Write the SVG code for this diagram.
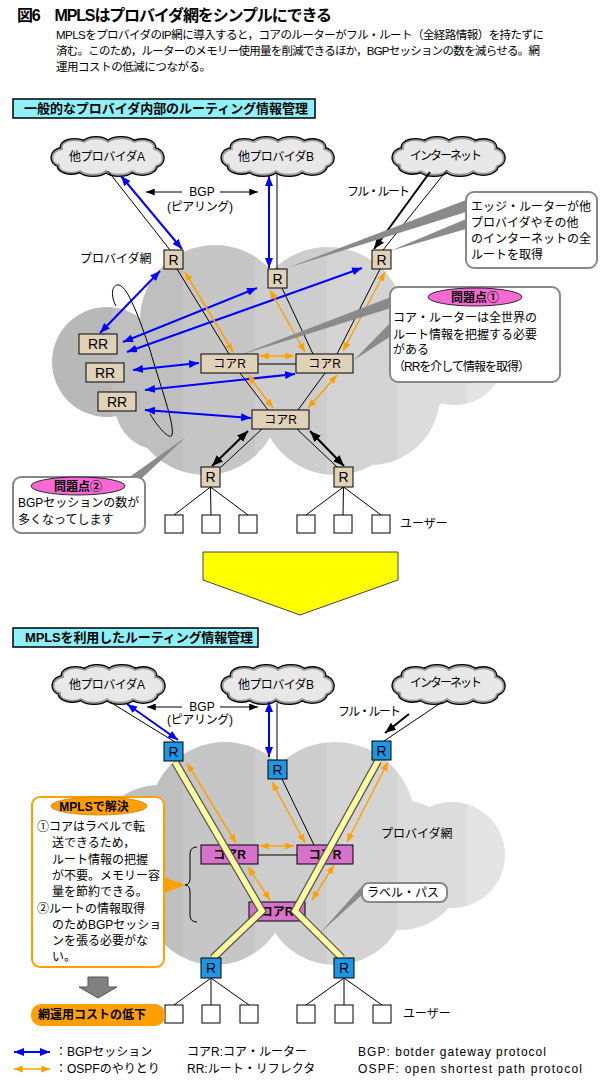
<svg xmlns="http://www.w3.org/2000/svg" width="601" height="1085" viewBox="0 0 601 1085">
<style>
.t{font-family:"Liberation Sans","Noto Sans CJK JP",sans-serif;font-size:12px;fill:#000}
.b{font-weight:bold}
.m{text-anchor:middle}
.thin{stroke:#000;stroke-width:1;fill:none}
.blue{stroke:#0000ff;stroke-width:2;fill:none}
.org{stroke:#ffa000;stroke-width:1.5;fill:none}
.blk{stroke:#000;stroke-width:2;fill:none}
.tan{fill:#e0d2b8;stroke:#000;stroke-width:1}
.blu{fill:#1e96e6;stroke:#000;stroke-width:1}
.mag{fill:#d672cc;stroke:#000;stroke-width:1}
.usr{fill:#fff;stroke:#000;stroke-width:1}
.wedge{fill:#8a8a8a}
.callout{fill:#fff;stroke:#888;stroke-width:2}
.head{fill:#8ef0f8;stroke:#000;stroke-width:1.5}
.ypath{fill:none;stroke-linejoin:miter}
</style>
<defs>
<linearGradient id="stripe" gradientUnits="userSpaceOnUse" x1="0" y1="0" x2="601" y2="0">
<stop offset="0" stop-color="#b8b8b8"/><stop offset="0.1864" stop-color="#b8b8b8"/>
<stop offset="0.1864" stop-color="#bfbfbf"/><stop offset="0.3045" stop-color="#bfbfbf"/>
<stop offset="0.3045" stop-color="#c6c6c6"/><stop offset="0.4243" stop-color="#c6c6c6"/>
<stop offset="0.4243" stop-color="#cdcdcd"/><stop offset="0.5441" stop-color="#cdcdcd"/>
<stop offset="0.5441" stop-color="#d4d4d4"/><stop offset="0.6606" stop-color="#d4d4d4"/>
<stop offset="0.6606" stop-color="#dcdcdc"/><stop offset="0.777" stop-color="#dcdcdc"/>
<stop offset="0.777" stop-color="#e4e4e4"/><stop offset="1" stop-color="#e4e4e4"/>
</linearGradient>
<marker id="ab" viewBox="0 0 10 8" refX="10" refY="4" markerWidth="10" markerHeight="8" markerUnits="userSpaceOnUse" orient="auto-start-reverse"><path d="M0,0L10,4L0,8z" fill="#0000ff"/></marker>
<marker id="ao" viewBox="0 0 10 8" refX="10" refY="4" markerWidth="9" markerHeight="7" markerUnits="userSpaceOnUse" orient="auto-start-reverse"><path d="M0,0L10,4L0,8z" fill="#ffa000"/></marker>
<marker id="ak" viewBox="0 0 10 8" refX="10" refY="4" markerWidth="11" markerHeight="9" markerUnits="userSpaceOnUse" orient="auto-start-reverse"><path d="M0,0L10,4L0,8z" fill="#000"/></marker>
<marker id="aks" viewBox="0 0 10 8" refX="10" refY="4" markerWidth="9" markerHeight="7" markerUnits="userSpaceOnUse" orient="auto-start-reverse"><path d="M0,0L10,4L0,8z" fill="#000"/></marker>
<path id="cloud" d="M12,12 C10,4 24,1 34,5 C40,0 52,0 58,5 C64,0 78,0 84,5 C94,1 106,5 104,12 C114,14 116,26 106,29 C104,37 90,39 82,34 C76,39 62,39 56,34 C50,39 36,39 30,34 C20,38 8,34 9,28 C0,26 0,14 12,12 Z"/>
</defs>

<rect width="601" height="1085" fill="#fff"/>

<g id="title">
<text class="t b" x="17" y="21" style="font-size:16px" textLength="315">図6　MPLSはプロバイダ網をシンプルにできる</text>
<text class="t" x="56" y="39" style="font-size:11.5px" textLength="488">MPLSをプロバイダのIP網に導入すると，コアのルーターがフル・ルート（全経路情報）を持たずに</text>
<text class="t" x="56" y="55" style="font-size:11.5px" textLength="484">済む。このため，ルーターのメモリー使用量を削減できるほか，BGPセッションの数を減らせる。網</text>
<text class="t" x="56" y="71" style="font-size:11.5px" textLength="155">運用コストの低減につながる。</text>
</g>

<!-- ===================== TOP SECTION ===================== -->
<g id="heading1">
<rect class="head" x="13" y="99" width="302" height="19"/>
<text class="t b" x="24" y="113" style="font-size:13px" textLength="284">一般的なプロバイダ内部のルーティング情報管理</text>
</g>

<g id="network1">
<g fill="url(#stripe)">
<circle cx="107" cy="362" r="55"/>
<circle cx="215" cy="320" r="75"/>
<circle cx="328" cy="325" r="78"/>
<circle cx="455" cy="355" r="50"/>
<circle cx="205" cy="400" r="75"/>
<circle cx="335" cy="400" r="75"/>
<circle cx="400" cy="360" r="60"/>
<circle cx="160" cy="405" r="45"/>
<circle cx="370" cy="395" r="70"/>
</g>
<text class="t" x="80" y="263">プロバイダ網</text>
</g>

<g id="cloudA1" transform="translate(50,137)">
<use href="#cloud" fill="#e8e8e8" stroke="#000" stroke-width="4.5"/>
<use href="#cloud" fill="#e8e8e8" stroke="#9a9a9a" stroke-width="1.8"/>
<text class="t m" x="57" y="24" textLength="76">他プロバイダA</text>
</g>
<g id="cloudB1" transform="translate(220,137)">
<use href="#cloud" fill="#e8e8e8" stroke="#000" stroke-width="4.5"/>
<use href="#cloud" fill="#e8e8e8" stroke="#9a9a9a" stroke-width="1.8"/>
<text class="t m" x="56" y="24" textLength="76">他プロバイダB</text>
</g>
<g id="cloudI1" transform="translate(391,137)">
<use href="#cloud" fill="#e8e8e8" stroke="#000" stroke-width="4.5"/>
<use href="#cloud" fill="#e8e8e8" stroke="#9a9a9a" stroke-width="1.8"/>
<text class="t m" x="55" y="23" textLength="72">インターネット</text>
</g>

<g id="connectors1">
<line class="thin" x1="108" y1="171" x2="170" y2="250"/>
<line class="thin" x1="277" y1="174" x2="277" y2="269"/>
<line class="thin" x1="447" y1="170" x2="383" y2="250"/>
<line class="thin" x1="177" y1="269" x2="229" y2="354"/>
<line class="thin" x1="282" y1="288" x2="313" y2="354"/>
<line class="thin" x1="380" y1="269" x2="337" y2="354"/>
<line class="thin" x1="258" y1="364" x2="296" y2="364"/>
<line class="thin" x1="240" y1="373" x2="268" y2="410"/>
<line class="thin" x1="325" y1="373" x2="298" y2="410"/>
<line class="thin" x1="262" y1="429" x2="221" y2="467"/>
<line class="thin" x1="297" y1="429" x2="337" y2="467"/>
<line class="thin" x1="210.5" y1="487" x2="174" y2="515"/>
<line class="thin" x1="210.5" y1="487" x2="211" y2="515"/>
<line class="thin" x1="210.5" y1="487" x2="248" y2="515"/>
<line class="thin" x1="343.5" y1="487" x2="306" y2="515"/>
<line class="thin" x1="343.5" y1="487" x2="343" y2="515"/>
<line class="thin" x1="343.5" y1="487" x2="381" y2="515"/>
<path class="thin" d="M116,306 C110,295 112,284 119,285 C128,287 140,320 150,350 C160,385 175,425 172,435 C170,440 160,430 150,414"/>
<line class="thin" x1="182" y1="192" x2="146" y2="192" marker-end="url(#aks)"/>
<line class="thin" x1="220" y1="192" x2="258" y2="192" marker-end="url(#aks)"/>
<line class="blk" x1="430" y1="172" x2="374" y2="249" marker-end="url(#ak)"/>
<line class="blk" x1="248" y1="431" x2="212" y2="466" marker-start="url(#ak)" marker-end="url(#ak)"/>
<line class="blk" x1="310" y1="431" x2="344" y2="466" marker-start="url(#ak)" marker-end="url(#ak)"/>
<line class="blue" x1="121" y1="176" x2="182" y2="249" marker-start="url(#ab)" marker-end="url(#ab)"/>
<line class="blue" x1="269" y1="176" x2="269" y2="268" marker-start="url(#ab)" marker-end="url(#ab)"/>
<line class="blue" x1="160" y1="271" x2="100" y2="333" marker-start="url(#ab)" marker-end="url(#ab)"/>
<line class="blue" x1="257" y1="288" x2="123" y2="342" marker-start="url(#ab)" marker-end="url(#ab)"/>
<line class="blue" x1="362" y1="268" x2="127" y2="352" marker-start="url(#ab)" marker-end="url(#ab)"/>
<line class="blue" x1="199" y1="363" x2="133" y2="370" marker-start="url(#ab)" marker-end="url(#ab)"/>
<line class="blue" x1="295" y1="374" x2="145" y2="390" marker-start="url(#ab)" marker-end="url(#ab)"/>
<line class="blue" x1="251" y1="418" x2="145" y2="410" marker-start="url(#ab)" marker-end="url(#ab)"/>
<line class="org" x1="185" y1="272" x2="233" y2="352" marker-start="url(#ao)" marker-end="url(#ao)"/>
<line class="org" x1="270" y1="290" x2="305" y2="352" marker-start="url(#ao)" marker-end="url(#ao)"/>
<line class="org" x1="385" y1="272" x2="343" y2="351" marker-start="url(#ao)" marker-end="url(#ao)"/>
<line class="org" x1="260" y1="356" x2="294" y2="356" marker-start="url(#ao)" marker-end="url(#ao)"/>
<line class="org" x1="248" y1="375" x2="273" y2="408" marker-start="url(#ao)" marker-end="url(#ao)"/>
<line class="org" x1="337" y1="375" x2="308" y2="408" marker-start="url(#ao)" marker-end="url(#ao)"/>
<polygon class="wedge" points="466,200 466,212 287,268"/>
<polygon class="wedge" points="466,219 466,229 390,251"/>
<polygon class="wedge" points="391,297 391,308 240,355"/>
<polygon class="wedge" points="391,322 391,336 354,360"/>
<polygon class="wedge" points="128,478 142,478 186,437"/>
</g>

<g id="labels1">
<text class="t m" x="202" y="196">BGP</text>
<text class="t m" x="200" y="211" textLength="66">(ピアリング)</text>
<text class="t" x="347" y="196" textLength="63">フル・ルート</text>
<text class="t" x="400" y="528">ユーザー</text>
</g>

<g id="R1t"><rect class="tan" x="164" y="250" width="19" height="19"/><text class="t m" x="173.5" y="265" style="font-size:14px">R</text></g>
<g id="R2t"><rect class="tan" x="268" y="269" width="19" height="19"/><text class="t m" x="277.5" y="284" style="font-size:14px">R</text></g>
<g id="R3t"><rect class="tan" x="372" y="250" width="19" height="19"/><text class="t m" x="381.5" y="265" style="font-size:14px">R</text></g>
<g id="R4t"><rect class="tan" x="201" y="467" width="19" height="20"/><text class="t m" x="210.5" y="482" style="font-size:14px">R</text></g>
<g id="R5t"><rect class="tan" x="334" y="467" width="19" height="20"/><text class="t m" x="343.5" y="482" style="font-size:14px">R</text></g>
<g id="Core1t"><rect class="tan" x="201" y="354" width="57" height="19"/><text class="t m" x="229.5" y="368">コアR</text></g>
<g id="Core2t"><rect class="tan" x="296" y="354" width="57" height="19"/><text class="t m" x="324.5" y="368">コアR</text></g>
<g id="Core3t"><rect class="tan" x="252" y="410" width="57" height="19"/><text class="t m" x="280.5" y="424">コアR</text></g>
<g id="RR1"><rect class="tan" x="79" y="334" width="38" height="20"/><text class="t m" x="98" y="349" style="font-size:14px">RR</text></g>
<g id="RR2"><rect class="tan" x="86" y="363" width="38" height="19"/><text class="t m" x="105" y="378" style="font-size:14px">RR</text></g>
<g id="RR3"><rect class="tan" x="98" y="392" width="38" height="19"/><text class="t m" x="117" y="407" style="font-size:14px">RR</text></g>
<g id="users1">
<rect class="usr" x="165" y="515" width="18" height="18"/>
<rect class="usr" x="202" y="515" width="18" height="18"/>
<rect class="usr" x="239" y="515" width="18" height="18"/>
<rect class="usr" x="297" y="515" width="18" height="18"/>
<rect class="usr" x="334" y="515" width="18" height="18"/>
<rect class="usr" x="372" y="515" width="18" height="18"/>
</g>

<g id="calloutEdge">
<rect class="callout" x="466" y="192" width="131" height="76" rx="8"/>
<text class="t" x="471" y="211">エッジ・ルーターが他</text>
<text class="t" x="471" y="227">プロバイダやその他</text>
<text class="t" x="471" y="243">のインターネットの全</text>
<text class="t" x="471" y="259">ルートを取得</text>
</g>
<g id="callout1">
<rect class="callout" x="390" y="287" width="170" height="95" rx="8"/>
<ellipse cx="475" cy="297" rx="47" ry="9" fill="#f46ad2" stroke="#000" stroke-width="0.8"/>
<text class="t b m" x="475" y="302">問題点①</text>
<text class="t" x="393" y="322">コア・ルーターは全世界の</text>
<text class="t" x="393" y="339">ルート情報を把握する必要</text>
<text class="t" x="393" y="354">がある</text>
<text class="t" x="393" y="371" textLength="137">（RRを介して情報を取得）</text>
</g>
<g id="callout2">
<rect class="callout" x="13" y="477" width="132" height="56" rx="8"/>
<ellipse cx="78" cy="486" rx="47" ry="9" fill="#f46ad2" stroke="#000" stroke-width="0.8"/>
<text class="t b m" x="78" y="491">問題点②</text>
<text class="t" x="18" y="507">BGPセッションの数が</text>
<text class="t" x="18" y="524">多くなってします</text>
</g>

<g id="bigArrow">
<polygon points="203,552 398,552 398,580 300,615 203,580" fill="#ffff00" stroke="#444" stroke-width="1"/>
</g>

<!-- ===================== BOTTOM SECTION ===================== -->
<g id="heading2">
<rect class="head" x="13" y="628" width="245" height="19"/>
<text class="t b" x="25" y="642" style="font-size:13px" textLength="228">MPLSを利用したルーティング情報管理</text>
</g>

<g id="network2">
<g fill="url(#stripe)">
<circle cx="160" cy="855" r="70"/>
<circle cx="225" cy="818" r="76"/>
<circle cx="335" cy="822" r="80"/>
<circle cx="452" cy="855" r="53"/>
<circle cx="215" cy="893" r="72"/>
<circle cx="335" cy="893" r="72"/>
<circle cx="400" cy="865" r="65"/>
</g>
<text class="t" x="381" y="838">プロバイダ網</text>
</g>

<g id="cloudA2" transform="translate(51,665)">
<use href="#cloud" fill="#e8e8e8" stroke="#000" stroke-width="4.5"/>
<use href="#cloud" fill="#e8e8e8" stroke="#9a9a9a" stroke-width="1.8"/>
<text class="t m" x="56" y="24" textLength="76">他プロバイダA</text>
</g>
<g id="cloudB2" transform="translate(220,665)">
<use href="#cloud" fill="#e8e8e8" stroke="#000" stroke-width="4.5"/>
<use href="#cloud" fill="#e8e8e8" stroke="#9a9a9a" stroke-width="1.8"/>
<text class="t m" x="56" y="24" textLength="76">他プロバイダB</text>
</g>
<g id="cloudI2" transform="translate(391,665)">
<use href="#cloud" fill="#e8e8e8" stroke="#000" stroke-width="4.5"/>
<use href="#cloud" fill="#e8e8e8" stroke="#9a9a9a" stroke-width="1.8"/>
<text class="t m" x="55" y="22" textLength="72">インターネット</text>
</g>

<g id="connectors2">
<line class="thin" x1="110" y1="702" x2="175" y2="742"/>
<line class="thin" x1="277" y1="703" x2="277" y2="760"/>
<line class="thin" x1="442" y1="702" x2="384" y2="741"/>
<line class="thin" x1="282" y1="779" x2="314" y2="845"/>
<line class="thin" x1="258" y1="855" x2="297" y2="855"/>
<line class="thin" x1="211" y1="978" x2="174" y2="1005"/>
<line class="thin" x1="211" y1="978" x2="211" y2="1005"/>
<line class="thin" x1="211" y1="978" x2="249" y2="1005"/>
<line class="thin" x1="344" y1="978" x2="306" y2="1005"/>
<line class="thin" x1="344" y1="978" x2="344" y2="1005"/>
<line class="thin" x1="344" y1="978" x2="382" y2="1005"/>
<line class="thin" x1="182" y1="707" x2="147" y2="707" marker-end="url(#aks)"/>
<line class="thin" x1="220" y1="707" x2="258" y2="707" marker-end="url(#aks)"/>
<line class="blk" x1="409" y1="714" x2="385" y2="733" marker-end="url(#ak)"/>
<line class="blue" x1="127" y1="704" x2="178" y2="740" marker-start="url(#ab)" marker-end="url(#ab)"/>
<line class="blue" x1="269" y1="702" x2="269" y2="757" marker-start="url(#ab)" marker-end="url(#ab)"/>
<line class="org" x1="187" y1="763" x2="236" y2="843" marker-start="url(#ao)" marker-end="url(#ao)"/>
<line class="org" x1="272" y1="782" x2="305" y2="843" marker-start="url(#ao)" marker-end="url(#ao)"/>
<line class="org" x1="388" y1="762" x2="347" y2="842" marker-start="url(#ao)" marker-end="url(#ao)"/>
<line class="org" x1="260" y1="846" x2="294" y2="846" marker-start="url(#ao)" marker-end="url(#ao)"/>
<line class="org" x1="248" y1="867" x2="270" y2="900" marker-start="url(#ao)" marker-end="url(#ao)"/>
<line class="org" x1="334" y1="865" x2="312" y2="900" marker-start="url(#ao)" marker-end="url(#ao)"/>
</g>

<g id="Core1b"><rect class="mag" x="201" y="845" width="57" height="19"/><text class="t b m" x="229.5" y="859">コアR</text></g>
<g id="Core2b"><rect class="mag" x="297" y="845" width="56" height="19"/><text class="t b m" x="325" y="859">コアR</text></g>
<g id="Core3b"><rect class="mag" x="249" y="902" width="56" height="19"/><text class="t b m" x="277" y="916">コアR</text></g>

<g id="labelPaths">
<polyline class="ypath" points="175,762 262,911 213,958" stroke="#555" stroke-width="8"/>
<polyline class="ypath" points="175,762 262,911 213,958" stroke="#ffffa0" stroke-width="5.5"/>
<polyline class="ypath" points="378,761 295,911 342,958" stroke="#555" stroke-width="8"/>
<polyline class="ypath" points="378,761 295,911 342,958" stroke="#ffffa0" stroke-width="5.5"/>
</g>

<g id="R1b"><rect class="blu" x="164" y="742" width="19" height="19"/><text class="t m" x="173.5" y="757" style="font-size:14px">R</text></g>
<g id="R2b"><rect class="blu" x="268" y="760" width="19" height="19"/><text class="t m" x="277.5" y="775" style="font-size:14px">R</text></g>
<g id="R3b"><rect class="blu" x="372" y="741" width="19" height="19"/><text class="t m" x="381.5" y="756" style="font-size:14px">R</text></g>
<g id="R4b"><rect class="blu" x="201" y="958" width="20" height="20"/><text class="t m" x="211" y="973" style="font-size:14px">R</text></g>
<g id="R5b"><rect class="blu" x="334" y="958" width="20" height="20"/><text class="t m" x="344" y="973" style="font-size:14px">R</text></g>
<g id="users2">
<rect class="usr" x="165" y="1005" width="18" height="18"/>
<rect class="usr" x="202" y="1005" width="18" height="18"/>
<rect class="usr" x="240" y="1005" width="18" height="18"/>
<rect class="usr" x="297" y="1005" width="18" height="18"/>
<rect class="usr" x="335" y="1005" width="18" height="18"/>
<rect class="usr" x="373" y="1005" width="18" height="18"/>
</g>

<g id="labels2">
<text class="t m" x="202" y="711">BGP</text>
<text class="t m" x="200" y="724" textLength="66">(ピアリング)</text>
<text class="t" x="338" y="716" textLength="63">フル・ルート</text>
<text class="t" x="403" y="1018">ユーザー</text>
</g>

<g id="calloutLabelPath">
<polygon class="wedge" points="363,885 363,894 320,933"/>
<rect class="callout" x="362" y="883" width="85" height="19" rx="7"/>
<text class="t" x="367" y="897">ラベル・パス</text>
</g>

<g id="calloutMPLS">
<polygon points="164,877 164,893 186,885" fill="#ffa000"/>
<path d="M197,847 Q190,847 190,854 L190,878 Q190,885 185,885 Q190,885 190,892 L190,915 Q190,922 197,922" fill="none" stroke="#000" stroke-width="1"/>
<rect x="32" y="797" width="132" height="170" rx="8" fill="#fff" stroke="#ffa000" stroke-width="2"/>
<ellipse cx="99" cy="806" rx="48" ry="9" fill="#ffa000" stroke="#c87800" stroke-width="0.8"/>
<text class="t b m" x="94" y="811">MPLSで解決</text>
<text class="t" x="37" y="831">①コアはラベルで転</text>
<text class="t" x="52" y="847">送できるため，</text>
<text class="t" x="52" y="864">ルート情報の把握</text>
<text class="t" x="52" y="880">が不要。メモリー容</text>
<text class="t" x="52" y="896">量を節約できる。</text>
<text class="t" x="37" y="913">②ルートの情報取得</text>
<text class="t" x="52" y="929">のためBGPセッショ</text>
<text class="t" x="52" y="945">ンを張る必要がな</text>
<text class="t" x="52" y="961">い。</text>
</g>

<g id="result">
<polygon points="88,977 108,977 108,987 117,987 98,998 79,987 88,987" fill="#808080" stroke="#555" stroke-width="1"/>
<rect x="31" y="1004" width="134" height="22" rx="10" fill="#ffa000"/>
<text class="t b" x="38" y="1019">網運用コストの低下</text>
</g>

<g id="legend">
<line class="blue" x1="14" y1="1052" x2="50" y2="1052" marker-start="url(#ab)" marker-end="url(#ab)"/>
<line class="org" x1="14" y1="1069" x2="50" y2="1069" stroke-width="2" marker-start="url(#ao)" marker-end="url(#ao)"/>
<text class="t" x="55" y="1056">：BGPセッション</text>
<text class="t" x="55" y="1073">：OSPFのやりとり</text>
<text class="t" x="187" y="1056">コアR:コア・ルーター</text>
<text class="t" x="187" y="1073">RR:ルート・リフレクタ</text>
<text class="t" x="358" y="1056" textLength="188">BGP: botder gateway protocol</text>
<text class="t" x="358" y="1073" textLength="224">OSPF: open shortest path protocol</text>
</g>
</svg>
